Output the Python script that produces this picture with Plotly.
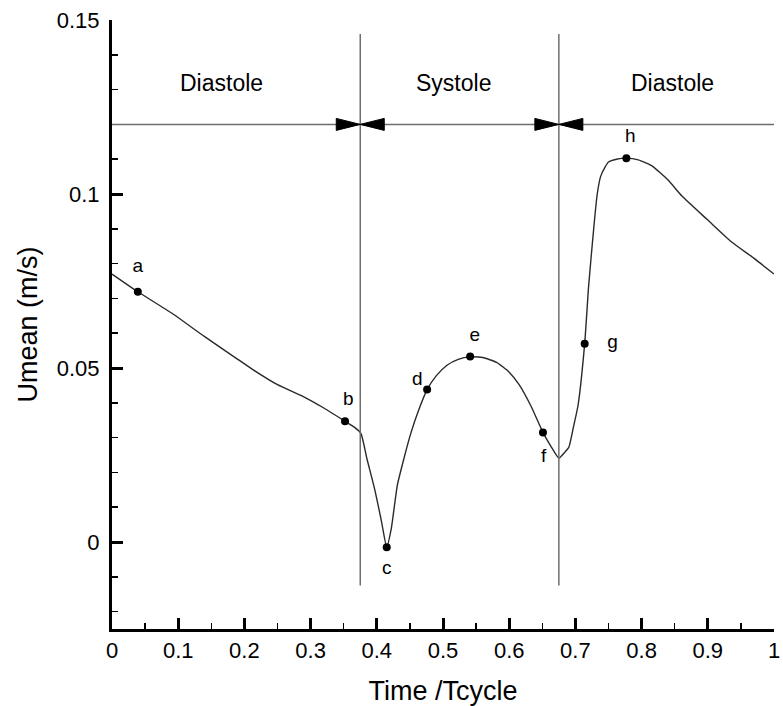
import plotly.graph_objects as go

# ---- data ----
time = [0.0, 0.039, 0.09, 0.14, 0.19, 0.214, 0.25, 0.289, 0.32, 0.352, 0.366, 0.376,
        0.385, 0.397, 0.407, 0.415, 0.422, 0.431, 0.441, 0.451, 0.463, 0.476, 0.49,
        0.506, 0.523, 0.541, 0.56, 0.581, 0.60, 0.615, 0.633, 0.651, 0.663, 0.675,
        0.683, 0.690, 0.697, 0.704, 0.714, 0.720, 0.728, 0.733, 0.738, 0.745, 0.750,
        0.762, 0.777, 0.795, 0.816, 0.84, 0.861, 0.90, 0.936, 0.97, 1.0]
umean = [0.0770, 0.0719, 0.0658, 0.0590, 0.0525, 0.0494, 0.0452, 0.0418, 0.0385, 0.0347,
         0.0330, 0.0312, 0.0240, 0.0150, 0.0060, -0.0015, 0.0040, 0.0163, 0.0240, 0.0310,
         0.0378, 0.0438, 0.0478, 0.0508, 0.0525, 0.0532, 0.0530, 0.0516, 0.0488, 0.0452,
         0.0390, 0.0315, 0.0275, 0.0241, 0.0256, 0.0272, 0.0330, 0.0393, 0.0570, 0.0736,
         0.0908, 0.1000, 0.1050, 0.1078, 0.1092, 0.1100, 0.1103, 0.1098, 0.1080, 0.1040,
         0.0994, 0.0925, 0.0862, 0.0815, 0.0770]

point_names = ["a", "b", "c", "d", "e", "f", "g", "h"]
point_time = [0.039, 0.352, 0.415, 0.476, 0.541, 0.651, 0.714, 0.777]
point_umean = [0.0719, 0.0347, -0.0015, 0.0438, 0.0533, 0.0315, 0.0570, 0.1103]
label_time = [0.039, 0.357, 0.415, 0.461, 0.548, 0.652, 0.756, 0.783]
label_umean = [0.0790, 0.0406, -0.0078, 0.0466, 0.0592, 0.0244, 0.0570, 0.1162]

phase_bounds = [0.375, 0.675]
phase_line_range = [-0.0125, 0.146]
arrow_level = 0.12
phase_names = ["Diastole", "Systole", "Diastole"]
phase_label_time = [0.165, 0.516, 0.846]
phase_label_umean = 0.1318

x_ticks = [0, 0.1, 0.2, 0.3, 0.4, 0.5, 0.6, 0.7, 0.8, 0.9, 1]
x_ticktext = ["0", "0.1", "0.2", "0.3", "0.4", "0.5", "0.6", "0.7", "0.8", "0.9", "1"]
y_ticks = [0, 0.05, 0.1, 0.15]
y_ticktext = ["0", "0.05", "0.1", "0.15"]

FONT = "Liberation Sans, Arial, Helvetica, sans-serif"

fig = go.Figure()
fig.add_trace(go.Scatter(x=time, y=umean, mode="lines",
                         line=dict(color="#2a2a2a", width=1.4, shape="spline", smoothing=0.5),
                         hoverinfo="skip", showlegend=False))
fig.add_trace(go.Scatter(x=point_time, y=point_umean, mode="markers",
                         marker=dict(color="black", size=8), showlegend=False))
fig.add_trace(go.Scatter(x=label_time, y=label_umean, mode="text", text=point_names,
                         textfont=dict(family=FONT, size=19, color="black"),
                         textposition="middle center", showlegend=False))

shapes = []
# horizontal phase line
shapes.append(dict(type="line", xref="x", yref="y", x0=0, x1=1, y0=arrow_level, y1=arrow_level,
                   line=dict(color="#6e6e6e", width=1.5), layer="above"))
for b in phase_bounds:
    shapes.append(dict(type="line", xref="x", yref="y", x0=b, x1=b,
                       y0=phase_line_range[0], y1=phase_line_range[1],
                       line=dict(color="#6e6e6e", width=1.5), layer="above"))
    # arrow head from left, pointing right
    shapes.append(dict(type="path", xref="x", yref="y", xsizemode="pixel", ysizemode="pixel",
                       xanchor=b, yanchor=arrow_level, path="M0,0 L-24,6 L-24,-6 Z",
                       fillcolor="black", line=dict(color="black", width=1), layer="above"))
    # arrow head from right, pointing left
    shapes.append(dict(type="path", xref="x", yref="y", xsizemode="pixel", ysizemode="pixel",
                       xanchor=b, yanchor=arrow_level, path="M0,0 L24,6 L24,-6 Z",
                       fillcolor="black", line=dict(color="black", width=1), layer="above"))

annotations = []
for name, t in zip(phase_names, phase_label_time):
    annotations.append(dict(x=t, y=phase_label_umean, xref="x", yref="y", text=name,
                            showarrow=False, font=dict(family=FONT, size=23, color="black")))

fig.update_layout(
    width=783, height=706,
    margin=dict(l=112, r=3, t=20, b=77),
    paper_bgcolor="white", plot_bgcolor="white",
    font=dict(family=FONT, color="black"),
    shapes=shapes, annotations=annotations, showlegend=False,
    xaxis=dict(range=[0, 1], tickvals=x_ticks, ticktext=x_ticktext,
               showgrid=False, zeroline=False, showline=True, linecolor="black", linewidth=3,
               ticks="inside", ticklen=11, tickwidth=3, tickcolor="black",
               tickfont=dict(family=FONT, size=22, color="black"),
               ticklabeloverflow="allow",
               minor=dict(dtick=0.05, tick0=0, ticks="inside", ticklen=6, tickwidth=1.5,
                          tickcolor="black", showgrid=False),
               title=dict(text="Time /Tcycle", font=dict(family=FONT, size=27, color="black"),
                          standoff=19),
               fixedrange=True),
    yaxis=dict(range=[-0.025, 0.15], tickvals=y_ticks, ticktext=y_ticktext,
               showgrid=False, zeroline=False, showline=True, linecolor="black", linewidth=3,
               ticks="inside", ticklen=11, tickwidth=3, tickcolor="black",
               tickfont=dict(family=FONT, size=22, color="black"),
               ticklabelstandoff=5, ticklabeloverflow="allow",
               minor=dict(dtick=0.01, tick0=0, ticks="inside", ticklen=6, tickwidth=1.5,
                          tickcolor="black", showgrid=False),
               title=dict(text="Umean (m/s)", font=dict(family=FONT, size=27, color="black"),
                          standoff=12),
               fixedrange=True),
)

# remove the browser's default 8px body margin so the figure sits at the window's corner
fig.write_html("out.html",
               config={"displayModeBar": False, "staticPlot": True},
               post_script="document.body.style.margin='0';document.body.style.padding='0';")
